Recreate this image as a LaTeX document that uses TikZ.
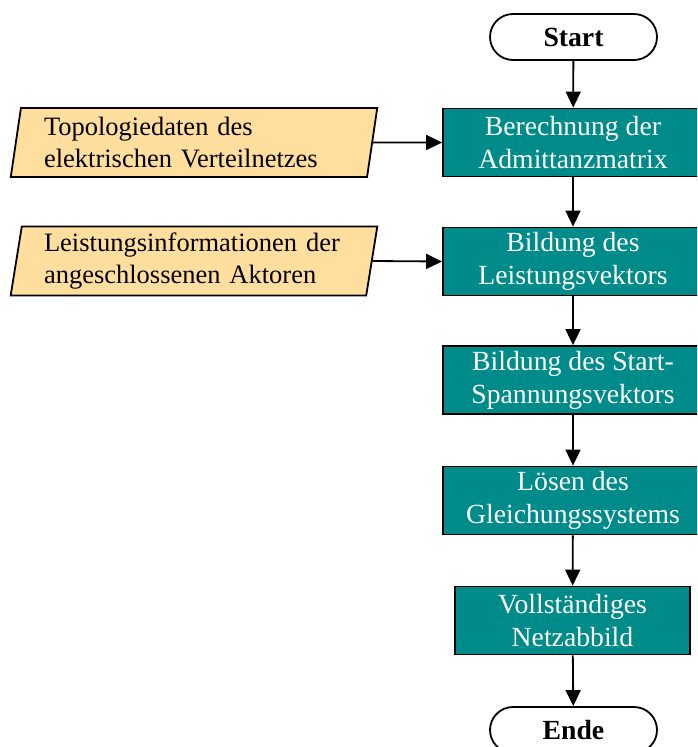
\documentclass[tikz,border=0pt]{standalone}
\usepackage{fontspec}
\setmainfont{Liberation Serif}
\usetikzlibrary{arrows.meta,shapes.geometric}
\definecolor{petrol}{RGB}{0,139,139}
\definecolor{sand}{RGB}{255,222,158}

\newcommand{\schrift}{\fontsize{27.7}{33}\selectfont}
\newcommand{\eingabeschrift}{\fontsize{26.5}{31.5}\selectfont}

\tikzset{
  terminal/.style={draw,line width=1.8pt,rounded corners=23pt,minimum width=167pt,minimum height=46pt,font=\schrift\bfseries},
  schritt/.style={draw,line width=1.8pt,fill=petrol,text=white,minimum width=260pt,minimum height=68pt,align=center,font=\schrift},
  eingabe/.style={trapezium,trapezium left angle=81,trapezium right angle=99,trapezium stretches=true,draw,line width=1.8pt,fill=sand,minimum width=368pt,minimum height=69pt,text width=300pt,align=left,font=\eingabeschrift},
  pfeil/.style={line width=1.8pt,-{Triangle[length=16pt,width=15pt]}}
}

\begin{document}
\begin{tikzpicture}[x=1pt,y=-1pt]
\clip (0,0) rectangle (697,747);
% Ablauf
\node[terminal] (start) at (573.5,37) {Start};
\node[schritt] (admittanz) at (573,142.5) {Berechnung der\\Admittanzmatrix};
\node[schritt] (leistung) at (573,261.5) {Bildung des\\Leistungsvektors};
\node[schritt] (spannung) at (573,380) {Bildung des Start-\\Spannungsvektors};
\node[schritt] (gleichung) at (573,500.5) {Lösen des\\Gleichungssystems};
\node[schritt,minimum width=235pt] (netzbild) at (572.5,620.5) {Vollständiges\\Netzabbild};
\node[terminal] (ende) at (573.5,730) {Ende};
% Eingangsdaten
\node[eingabe] (topologie) at (194,142.5) {Topologiedaten des\\elektrischen Verteilnetzes};
\node[eingabe] (aktoren) at (194,261) {Leistungsinformationen der\\angeschlossenen Aktoren};

\draw[pfeil] (start) -- (admittanz);
\draw[pfeil] (admittanz) -- (leistung);
\draw[pfeil] (leistung) -- (spannung);
\draw[pfeil] (spannung) -- (gleichung);
\draw[pfeil] (gleichung) -- (netzbild);
\draw[pfeil] (netzbild) -- (ende);
\draw[pfeil] (topologie.east) -- (admittanz.west);
\draw[pfeil] (aktoren.east) -- (leistung.west);
\end{tikzpicture}
\end{document}
